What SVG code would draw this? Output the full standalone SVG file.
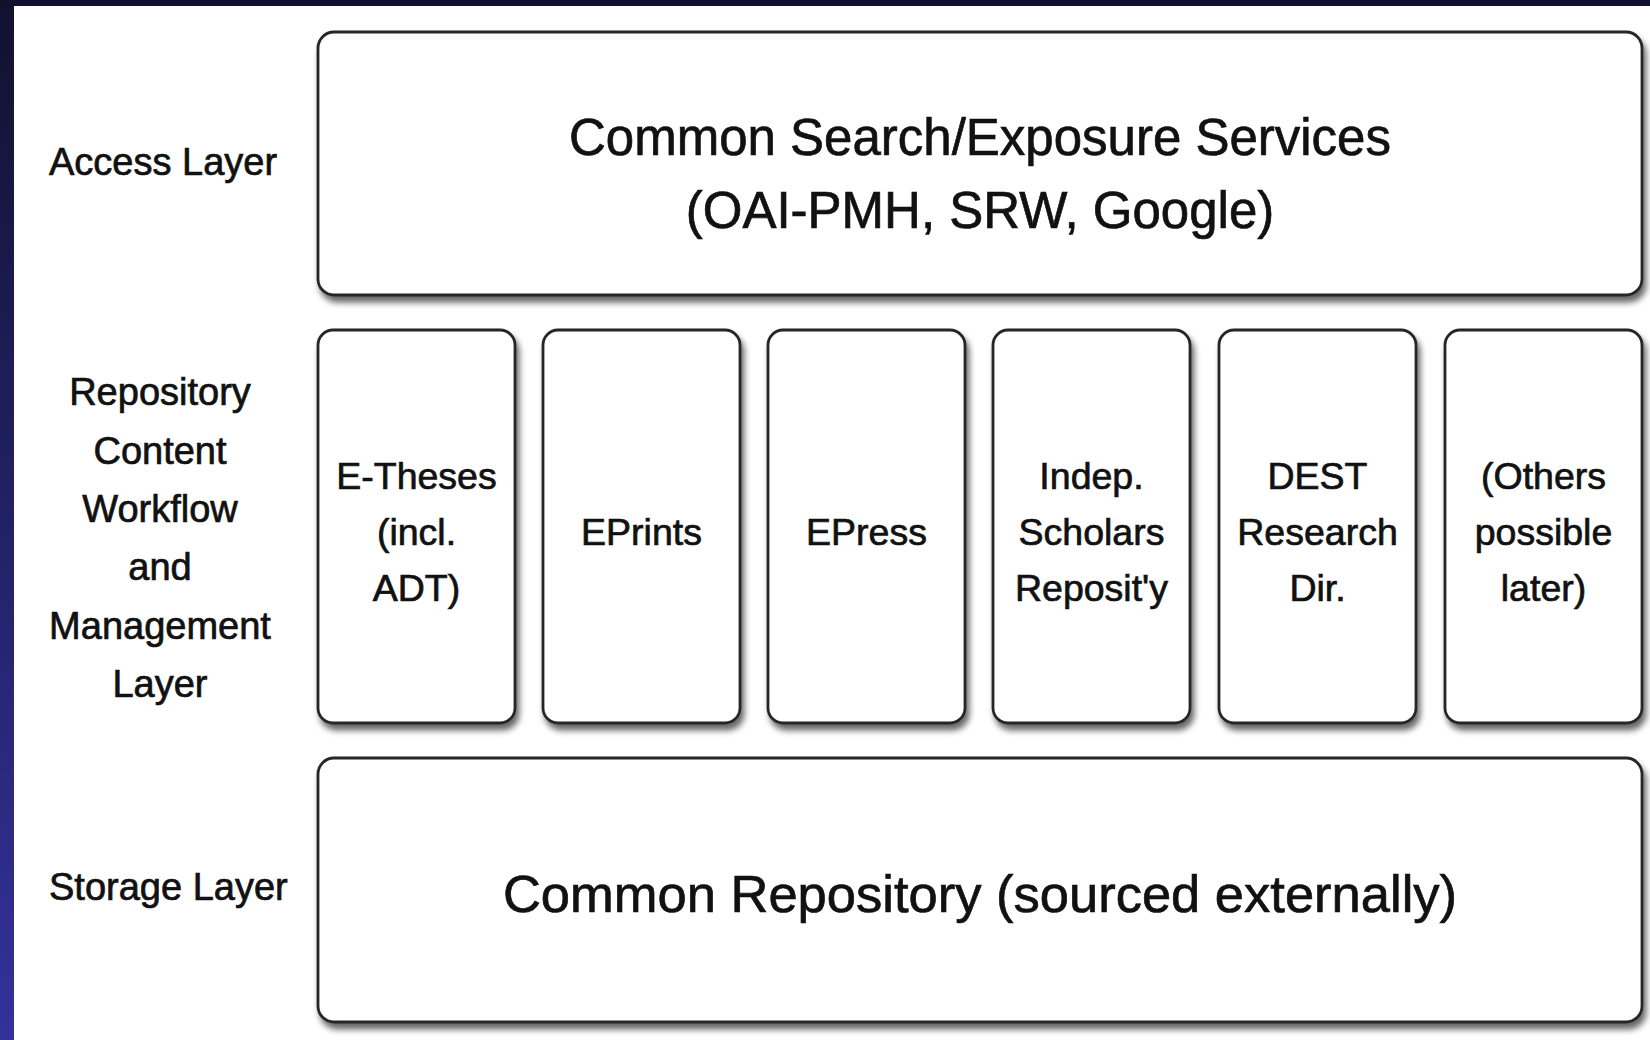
<svg xmlns="http://www.w3.org/2000/svg" width="1650" height="1040" viewBox="0 0 1650 1040">
<defs>
<linearGradient id="bg" x1="0" y1="0" x2="0" y2="1">
<stop offset="0" stop-color="#11112f"/>
<stop offset="1" stop-color="#34319b"/>
</linearGradient>
<filter id="sh" x="-5%" y="-5%" width="115%" height="120%">
<feGaussianBlur in="SourceAlpha" stdDeviation="3"/>
<feOffset dx="3" dy="6" result="b"/>
<feComponentTransfer><feFuncA type="linear" slope="0.6"/></feComponentTransfer>
<feMerge><feMergeNode/><feMergeNode in="SourceGraphic"/></feMerge>
</filter>
</defs>
<style>
.box{fill:#ffffff;stroke:#262626;stroke-width:2.8;filter:url(#sh)}
text{font-family:"Liberation Sans",Arial,sans-serif;fill:#111111;stroke:#111111;stroke-width:0.7}
.big{font-size:51px;text-anchor:middle}
.lbl{font-size:38px}
.mid{font-size:37.5px;text-anchor:middle}
</style>
<rect x="0" y="0" width="1650" height="1040" fill="url(#bg)"/>
<rect x="14" y="6" width="1636" height="1034" fill="#ffffff"/>

<g id="labels">
<text class="lbl" x="49" y="175">Access Layer</text>
<text class="lbl" text-anchor="middle" x="160"><tspan x="160" y="405">Repository</tspan><tspan x="160" y="464">Content</tspan><tspan x="160" y="522">Workflow</tspan><tspan x="160" y="580">and</tspan><tspan x="160" y="639">Management</tspan><tspan x="160" y="697">Layer</tspan></text>
<text class="lbl" x="49" y="900">Storage Layer</text>
</g>

<g id="access">
<rect class="box" x="318" y="32" width="1324" height="263" rx="16"/>
<text class="big"><tspan x="980" y="155">Common Search/Exposure Services</tspan><tspan x="980" y="228">(OAI-PMH, SRW, Google)</tspan></text>
</g>

<g id="etheses">
<rect class="box" x="318" y="330" width="197" height="393" rx="15"/>
<text class="mid"><tspan x="416.5" y="489">E-Theses</tspan><tspan x="416.5" y="545">(incl.</tspan><tspan x="416.5" y="601">ADT)</tspan></text>
</g>
<g id="eprints">
<rect class="box" x="543" y="330" width="197" height="393" rx="15"/>
<text class="mid" x="641.5" y="545">EPrints</text>
</g>
<g id="epress">
<rect class="box" x="768" y="330" width="197" height="393" rx="15"/>
<text class="mid" x="866.5" y="545">EPress</text>
</g>
<g id="indep">
<rect class="box" x="993" y="330" width="197" height="393" rx="15"/>
<text class="mid"><tspan x="1091.5" y="489">Indep.</tspan><tspan x="1091.5" y="545">Scholars</tspan><tspan x="1091.5" y="601">Reposit'y</tspan></text>
</g>
<g id="dest">
<rect class="box" x="1219" y="330" width="197" height="393" rx="15"/>
<text class="mid"><tspan x="1317.5" y="489">DEST</tspan><tspan x="1317.5" y="545">Research</tspan><tspan x="1317.5" y="601">Dir.</tspan></text>
</g>
<g id="others">
<rect class="box" x="1445" y="330" width="197" height="393" rx="15"/>
<text class="mid"><tspan x="1543.5" y="489">(Others</tspan><tspan x="1543.5" y="545">possible</tspan><tspan x="1543.5" y="601">later)</tspan></text>
</g>

<g id="storage">
<rect class="box" x="318" y="758" width="1324" height="264" rx="16"/>
<text class="big" style="font-size:52.5px" x="980" y="912">Common Repository (sourced externally)</text>
</g>

<g id="connectors"></g>
</svg>
